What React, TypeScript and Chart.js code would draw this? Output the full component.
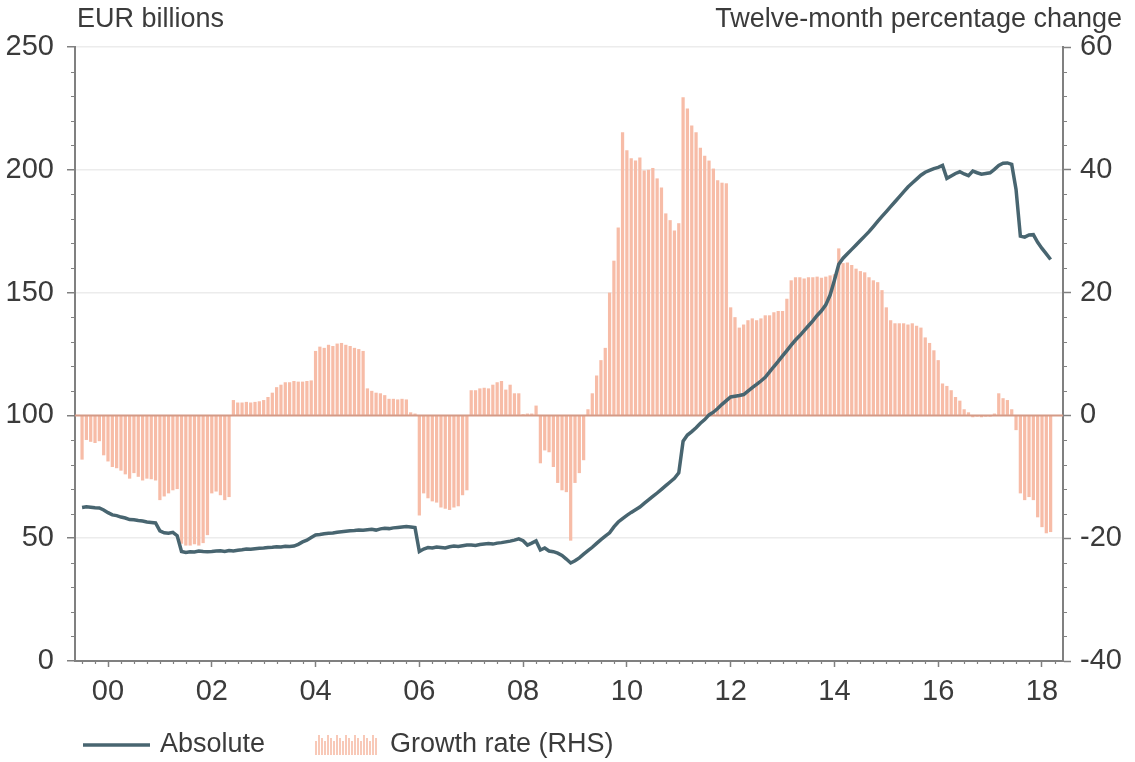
import React, { useEffect, useRef } from 'react';
import { Chart, registerables } from 'chart.js';

Chart.register(...registerables);

// ---- Data (monthly, starting July 1999) ----
const START_YEAR = 1999;
const START_MONTH = 7;

const tickYears = [2000, 2002, 2004, 2006, 2008, 2010, 2012, 2014, 2016, 2018];
const yearLabels = ['00', '02', '04', '06', '08', '10', '12', '14', '16', '18'];
const leftTicks = [0, 50, 100, 150, 200, 250];
const rightTicks = [-40, -20, 0, 20, 40, 60];

const leftTitle = 'EUR billions';
const rightTitle = 'Twelve-month percentage change';
const seriesNames = ['Absolute', 'Growth rate (RHS)'];

// EUR billions (left axis)
const absolute = [
  62.5, 62.8, 62.6, 62.4, 62.3, 61.5,
  60.4, 59.5, 59.2, 58.6, 58.2, 57.6, 57.5, 57.2, 57.0, 56.6, 56.4, 56.2,
  53.0, 52.2, 52.0, 52.4, 51.0, 44.6, 44.2, 44.5, 44.4, 44.8, 44.6, 44.5,
  44.6, 44.8, 44.9, 44.6, 45.0, 44.8, 45.1, 45.3, 45.6, 45.5, 45.7, 45.9,
  46.0, 46.2, 46.3, 46.5, 46.4, 46.7, 46.6, 46.8, 47.5, 48.5, 49.2, 50.3,
  51.3, 51.5, 51.8, 52.0, 52.1, 52.4, 52.6, 52.8, 53.0, 53.1, 53.3, 53.2,
  53.4, 53.6, 53.3, 53.8, 54.0, 53.9, 54.2, 54.4, 54.6, 54.8, 54.6, 54.3,
  44.6, 45.6, 46.2, 46.0, 46.4, 46.2, 46.0, 46.5, 46.8, 46.6, 46.9, 47.2,
  47.2, 47.0, 47.4, 47.6, 47.8, 47.6, 48.0, 48.2, 48.5, 48.8, 49.2, 49.7,
  49.0, 47.2, 48.0, 48.9, 45.2, 46.0, 44.8, 44.5, 43.9, 43.0, 41.5, 39.9,
  40.8, 42.0, 43.5, 44.9, 46.3, 47.9, 49.4, 50.8, 52.2, 54.6, 56.6, 58.0,
  59.3, 60.5, 61.6, 62.7, 64.2, 65.6, 67.0, 68.4, 69.9, 71.4, 72.9, 74.4,
  76.6, 89.5, 92.0, 93.4, 95.0, 96.8, 98.3, 100.2, 101.3, 102.8, 104.5, 106.0,
  107.5, 107.8, 108.1, 108.5, 109.9, 111.3, 112.6, 114.0, 115.5, 117.7, 119.9, 122.0,
  124.2, 126.4, 128.6, 130.7, 132.5, 134.5, 136.5, 138.5, 140.7, 142.6, 145.0, 149.0,
  155.0, 161.5, 164.0, 165.8, 167.6, 169.4, 171.2, 173.0, 174.8, 176.9, 179.0, 181.0,
  183.0, 185.0, 187.0, 189.0, 191.0, 193.0, 194.6, 196.2, 197.8, 199.0, 199.8, 200.5,
  201.0, 201.8, 196.5, 197.5, 198.5, 199.2, 198.3, 197.6, 199.5, 198.8, 198.2, 198.5,
  198.8, 200.2, 201.8, 202.7, 202.8, 202.2, 192.0, 173.0, 172.6, 173.5, 173.6, 170.5,
  168.0, 165.8, 163.5,
];

// Twelve-month percentage change (right axis)
const growth = [
  -7.2, -4.0, -4.3, -4.5, -4.2, -6.5,
  -7.5, -8.4, -8.6, -9.0, -9.6, -10.3, -9.4, -10.0, -10.6, -10.3, -10.4, -10.6,
  -13.8, -13.2, -12.7, -12.2, -12.0, -20.9, -21.2, -21.2, -21.0, -21.2, -20.8, -19.5,
  -12.7, -12.4, -13.0, -13.8, -13.3, 2.5, 2.1, 2.1, 2.2, 2.1, 2.2, 2.3,
  2.5, 3.0, 3.7, 4.6, 5.0, 5.4, 5.4, 5.6, 5.5, 5.5, 5.6, 5.7,
  10.5, 11.2, 11.0, 11.5, 11.3, 11.7, 11.8, 11.5, 11.3, 11.0, 10.8, 10.5,
  4.4, 4.0, 3.7, 3.6, 3.3, 2.7, 2.7, 2.6, 2.7, 2.6, 0.5, 0.3,
  -16.3, -12.7, -13.5, -14.0, -14.2, -15.0, -15.2, -15.4, -15.0, -14.8, -13.0, -12.2,
  4.1, 4.1, 4.4, 4.5, 4.4, 5.0, 5.4, 5.6, 4.2, 5.0, 3.6, 3.6,
  0.2, 0.3, 0.3, 1.6, -7.8, -5.7, -6.0, -8.4, -11.0, -12.2, -12.5, -20.4,
  -11.0, -9.4, -7.3, 1.0, 3.6, 6.5, 9.0, 11.0, 20.0, 25.2, 30.6, 46.1,
  43.2, 41.9, 41.5, 42.0, 39.9, 40.0, 40.3, 38.6, 37.1, 32.9, 31.8, 30.1,
  31.3, 51.8, 50.0, 47.2, 46.1, 43.6, 42.3, 41.5, 40.2, 38.3, 37.9, 37.8,
  17.6, 16.0, 14.3, 14.8, 15.5, 15.8, 15.5, 15.8, 16.3, 16.3, 16.8, 17.0,
  17.0, 19.0, 22.0, 22.5, 22.5, 22.3, 22.5, 22.5, 22.6, 22.4, 22.6, 22.8,
  23.0, 27.2, 24.8, 24.9, 24.5, 23.9, 23.5, 23.3, 22.5, 22.0, 21.7, 20.4,
  17.6, 15.5, 15.0, 15.0, 15.0, 14.8, 15.0, 14.6, 14.3, 12.7, 11.8, 10.6,
  9.0, 5.2, 4.8, 4.1, 3.0, 2.4, 1.0, 0.5, -0.3, -0.2, -0.3, -0.2,
  -0.2, 0.3, 3.6, 2.8, 2.5, 1.0, -2.4, -12.7, -13.8, -13.3, -13.8, -16.6,
  -18.2, -19.2, -19.0,
];

// ---- Styling ----
const FONT = "'Liberation Sans', Arial, sans-serif";
const TEXT = '#3b3b3b';
const AXIS = '#808080';
const GRID = '#ececec';
const LINE = '#486570';
const BAR = '#f7bca7';
const ZERO = '#d49a86';
const X_MIN = 1999.364;
const X_MAX = 2018.405;

const monthTime = (i: number) => START_YEAR + (START_MONTH - 1) / 12 + i / 12;

const decorPlugin = {
  id: 'decor',
  afterDatasetDraw(chart: any, args: any) {
    if (args.index !== 1) return;
    const { ctx, chartArea, scales } = chart;
    const y0 = scales.y2.getPixelForValue(0);
    ctx.save();
    ctx.strokeStyle = ZERO;
    ctx.lineWidth = 2;
    ctx.beginPath();
    ctx.moveTo(chartArea.left, y0);
    ctx.lineTo(chartArea.right, y0);
    ctx.stroke();
    ctx.restore();
  },
  afterDraw(chart: any) {
    const { ctx, chartArea, scales } = chart;
    const { x, y, y2 } = scales;
    ctx.save();
    // minor ticks
    ctx.strokeStyle = AXIS;
    ctx.lineWidth = 1.2;
    ctx.beginPath();
    for (let v = 0; v <= 250; v += 10) {
      if (v % 50 === 0) continue;
      const py = Math.round(y.getPixelForValue(v)) + 0.5;
      ctx.moveTo(chartArea.left - 4, py);
      ctx.lineTo(chartArea.left, py);
    }
    for (let v = -40; v <= 60; v += 4) {
      if (v % 20 === 0) continue;
      const py = Math.round(y2.getPixelForValue(v)) + 0.5;
      ctx.moveTo(chartArea.right, py);
      ctx.lineTo(chartArea.right + 4, py);
    }
    for (let q = 0; q < 80; q++) {
      const t = 1999.5 + q * 0.25;
      if (t > X_MAX) break;
      if (Math.abs(t - Math.round(t)) < 1e-6 && Math.round(t) % 2 === 0) continue;
      const px = Math.round(x.getPixelForValue(t)) + 0.5;
      ctx.moveTo(px, chartArea.bottom);
      ctx.lineTo(px, chartArea.bottom + 3);
    }
    ctx.stroke();

    // axis titles
    ctx.fillStyle = TEXT;
    ctx.font = `27px ${FONT}`;
    ctx.textBaseline = 'alphabetic';
    ctx.textAlign = 'left';
    ctx.fillText(leftTitle, 77, 27);
    ctx.textAlign = 'right';
    ctx.fillText(rightTitle, 1122, 27);

    // legend
    const ly = 745;
    ctx.strokeStyle = LINE;
    ctx.lineWidth = 3.5;
    ctx.beginPath();
    ctx.moveTo(83, ly);
    ctx.lineTo(150, ly);
    ctx.stroke();
    ctx.strokeStyle = BAR;
    ctx.lineWidth = 1.6;
    ctx.beginPath();
    for (let k = 0; k < 21; k++) {
      const bx = 316 + k * 3;
      const h = k % 3 === 1 ? 20 : k % 3 === 0 ? 14 : 17;
      ctx.moveTo(bx, 755);
      ctx.lineTo(bx, 755 - h);
    }
    ctx.stroke();
    ctx.fillStyle = TEXT;
    ctx.font = `27px ${FONT}`;
    ctx.textAlign = 'left';
    ctx.textBaseline = 'middle';
    ctx.fillText(seriesNames[0], 160, ly);
    ctx.fillText(seriesNames[1], 390, ly);
    ctx.restore();
  },
};

export default function App() {
  const canvasRef = useRef<HTMLCanvasElement | null>(null);

  useEffect(() => {
    if (!canvasRef.current) return;
    const absPts = absolute.map((v, i) => ({ x: monthTime(i), y: v }));
    const growthPts = growth.map((v, i) => ({ x: monthTime(i), y: v }));

    const chart = new Chart(canvasRef.current, {
      type: 'bar',
      data: {
        datasets: [
          {
            type: 'line',
            label: seriesNames[0],
            data: absPts,
            yAxisID: 'y',
            borderColor: LINE,
            borderWidth: 3.5,
            pointRadius: 0,
            tension: 0,
            order: 0,
          } as any,
          {
            type: 'bar',
            label: seriesNames[1],
            data: growthPts,
            yAxisID: 'y2',
            backgroundColor: BAR,
            barPercentage: 0.75,
            categoryPercentage: 1,
            order: 1,
          } as any,
        ],
      },
      plugins: [decorPlugin],
      options: {
        animation: false,
        responsive: true,
        maintainAspectRatio: false,
        layout: { padding: { top: 47, bottom: 51, left: 0, right: 0 } },
        plugins: {
          legend: { display: false },
          tooltip: { enabled: false },
          title: { display: false },
        },
        scales: {
          x: {
            type: 'linear',
            offset: false,
            min: X_MIN,
            max: X_MAX,
            afterBuildTicks: (s: any) => {
              s.ticks = tickYears.map((v) => ({ value: v }));
            },
            afterFit: (s: any) => {
              s.height = 50;
            },
            ticks: {
              autoSkip: false,
              maxRotation: 0,
              padding: 8,
              color: TEXT,
              font: { size: 29, family: FONT },
              callback: (_v: any, i: number) => yearLabels[i],
            },
            grid: {
              offset: false,
              drawOnChartArea: false,
              tickLength: 6,
              tickColor: AXIS,
              tickWidth: 1.5,
            },
            border: { color: AXIS, width: 2 },
          },
          y: {
            position: 'left',
            min: 0,
            max: 250,
            afterBuildTicks: (s: any) => {
              s.ticks = leftTicks.map((v) => ({ value: v }));
            },
            afterFit: (s: any) => {
              s.width = 75;
            },
            ticks: {
              padding: 13,
              color: TEXT,
              font: { size: 29, family: FONT },
            },
            grid: {
              color: (c: any) => (c.tick && (c.tick.value === 100 || c.tick.value === 0) ? 'rgba(0,0,0,0)' : GRID),
              lineWidth: 1.5,
              tickLength: 8,
              tickColor: AXIS,
              tickWidth: 1.5,
            },
            border: { color: AXIS, width: 2 },
          },
          y2: {
            position: 'right',
            min: -40,
            max: 60,
            afterBuildTicks: (s: any) => {
              s.ticks = rightTicks.map((v) => ({ value: v }));
            },
            afterFit: (s: any) => {
              s.width = 72;
            },
            ticks: {
              padding: 9,
              color: TEXT,
              font: { size: 29, family: FONT },
            },
            grid: {
              drawOnChartArea: false,
              tickLength: 8,
              tickColor: AXIS,
              tickWidth: 1.5,
            },
            border: { color: AXIS, width: 2 },
          },
        },
      } as any,
    });
    return () => chart.destroy();
  }, []);

  return (
    <div style={{ position: 'fixed', left: 0, top: 0, width: 1135, height: 762, background: '#fff' }}>
      <canvas ref={canvasRef} />
    </div>
  );
}
